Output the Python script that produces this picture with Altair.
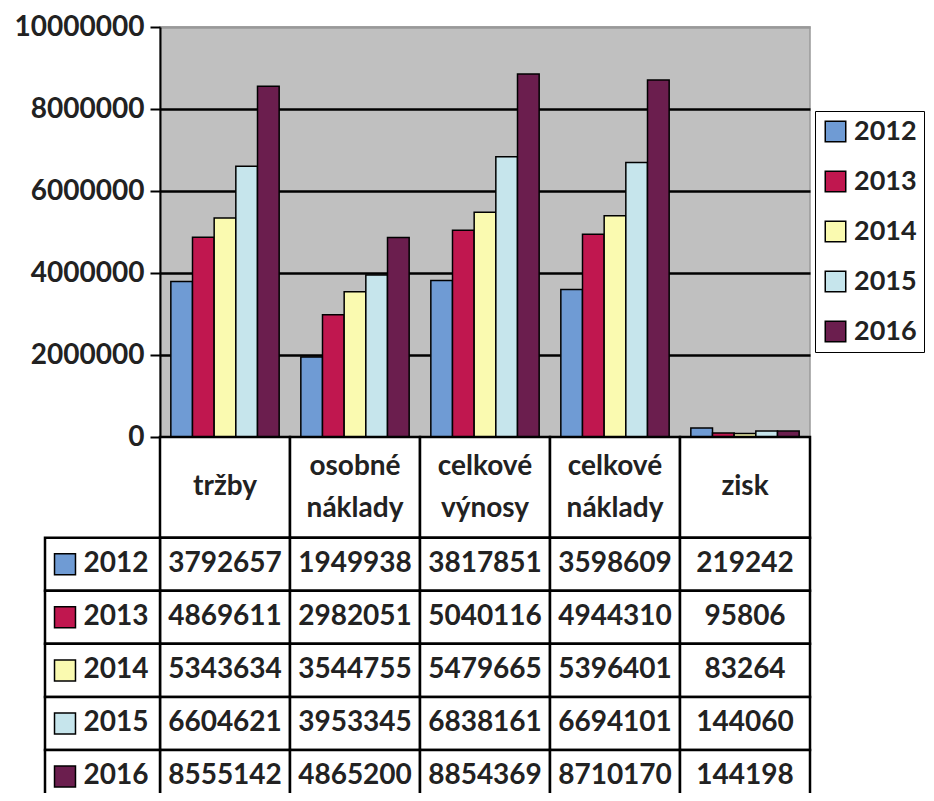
import altair as alt
import pandas as pd

categories = ["tržby", "osobné náklady", "celkové výnosy", "celkové náklady", "zisk"]
header_line1 = ["tržby", "osobné", "celkové", "celkové", "zisk"]
header_line2 = ["", "náklady", "výnosy", "náklady", ""]
years = ["2012", "2013", "2014", "2015", "2016"]
colors = ["#6f9bd4", "#c0174f", "#fafab0", "#c6e5ec", "#6b1e4e"]

v2012 = [3792657, 1949938, 3817851, 3598609, 219242]
v2013 = [4869611, 2982051, 5040116, 4944310, 95806]
v2014 = [5343634, 3544755, 5479665, 5396401, 83264]
v2015 = [6604621, 3953345, 6838161, 6694101, 144060]
v2016 = [8555142, 4865200, 8854369, 8710170, 144198]
y_ticks = [0, 2000000, 4000000, 6000000, 8000000, 10000000]

series = [v2012, v2013, v2014, v2015, v2016]

rows = []
for i, (yr, vals) in enumerate(zip(years, series)):
    for cat, v in zip(categories, vals):
        rows.append({"category": cat, "year": yr, "value": v, "txt": str(v),
                     "r0": i, "r1": i + 1, "rc": i + 0.5, "color": colors[i]})
df = pd.DataFrame(rows)

hdr = pd.DataFrame({"category": categories, "r0": [-1.9] * 5, "r1": [0] * 5})
hdr_lines = []
for cat, l1, l2 in zip(categories, header_line1, header_line2):
    if l2:
        hdr_lines.append({"category": cat, "label": l1, "rc": -1.33})
        hdr_lines.append({"category": cat, "label": l2, "rc": -0.55})
    else:
        hdr_lines.append({"category": cat, "label": l1, "rc": -0.95})
hdr_lines = pd.DataFrame(hdr_lines)

yr_df = pd.DataFrame({"year": years, "color": colors,
                      "r0": list(range(5)), "r1": [i + 1 for i in range(5)],
                      "rc": [i + 0.5 for i in range(5)]})

FONT = "Lato"
TXT = "#222222"
H = 410
xscale = alt.Scale(domain=categories, paddingInner=0, paddingOuter=0)
x_enc = alt.X("category:N", sort=categories, scale=xscale, axis=None)
tscale = alt.Scale(domain=[-1.9, 5], range=[H, H + 366])

bars = alt.Chart(df).mark_bar(stroke="black", strokeWidth=1.5).encode(
    x=x_enc,
    xOffset=alt.XOffset("year:N", sort=years,
                        scale=alt.Scale(paddingOuter=0.5, paddingInner=0)),
    y=alt.Y("value:Q", scale=alt.Scale(domain=[0, 10000000]),
            axis=alt.Axis(values=y_ticks, format="d", title=None,
                          labelFont=FONT, labelFontSize=28, labelFontWeight="bold",
                          labelColor=TXT, labelPadding=6,
                          tickColor="black", tickSize=10, tickWidth=2,
                          domainColor="black", domainWidth=2,
                          gridColor={"condition": {"test": "datum.value >= 10000000", "value": "#999999"},
                                     "value": "black"},
                          gridWidth=2.5)),
    fill=alt.Fill("year:N", sort=years, scale=alt.Scale(domain=years, range=colors),
                  legend=alt.Legend(title=None, orient="none", legendX=655, legendY=84,
                                    strokeColor="black", fillColor="white", padding=7,
                                    symbolType="square", symbolSize=420,
                                    symbolStrokeColor="black", symbolStrokeWidth=1.5,
                                    labelFont=FONT, labelFontSize=27, labelFontWeight="bold",
                                    labelColor=TXT, rowPadding=22, symbolOffset=0,
                                    labelOffset=5)),
)

hdr_cells = alt.Chart(hdr).mark_rect(fill="white", stroke="black", strokeWidth=2.5).encode(
    x=x_enc, y=alt.Y("r0:Q", scale=tscale, axis=None), y2="r1")
hdr_text = alt.Chart(hdr_lines).mark_text(font=FONT, fontSize=28, fontWeight="bold", color=TXT,
                                          baseline="middle").encode(
    x=x_enc, y=alt.Y("rc:Q", scale=tscale, axis=None), text="label:N")

cells = alt.Chart(df).mark_rect(fill="white", stroke="black", strokeWidth=2.5).encode(
    x=x_enc, y=alt.Y("r0:Q", scale=tscale, axis=None), y2="r1")
cell_text = alt.Chart(df).mark_text(font=FONT, fontSize=28, fontWeight="bold", color=TXT,
                                    baseline="middle").encode(
    x=x_enc, y=alt.Y("rc:Q", scale=tscale, axis=None), text="txt:N")

rh_cells = alt.Chart(yr_df).mark_rect(fill="white", stroke="black", strokeWidth=2.5).encode(
    x=alt.value(-115), x2=alt.value(0),
    y=alt.Y("r0:Q", scale=tscale, axis=None), y2="r1")
rh_sq = alt.Chart(yr_df).mark_point(shape="square", filled=True, size=440,
                                    stroke="black", strokeWidth=1.5, opacity=1).encode(
    x=alt.value(-95), y=alt.Y("rc:Q", scale=tscale, axis=None),
    fill=alt.Fill("color:N", scale=None))
rh_text = alt.Chart(yr_df).mark_text(font=FONT, fontSize=28, fontWeight="bold", color=TXT,
                                     baseline="middle", align="center").encode(
    x=alt.value(-44), y=alt.Y("rc:Q", scale=tscale, axis=None), text="year:N")

chart = alt.layer(
    bars, hdr_cells, cells, rh_cells, hdr_text, cell_text, rh_sq, rh_text
).resolve_scale(y="independent").properties(
    width=650, height=H,
    autosize=alt.AutoSizeParams(type="none"),
    padding={"left": 152, "top": 19, "right": 116, "bottom": 356},
    background="white",
).configure_view(fill="#c0c0c0", stroke="#999999", strokeWidth=1.5)

chart.save("out.html", embed_options={"renderer": "svg", "actions": False})
